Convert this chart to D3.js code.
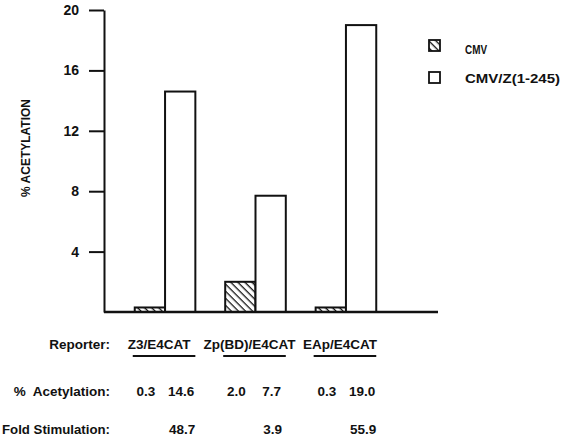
<!DOCTYPE html>
<html>
<head>
<meta charset="utf-8">
<script src="https://cdn.jsdelivr.net/npm/d3@7"></script>
<style>
  body { margin: 0; background: #fff; }
  svg { display: block; font-family: Arial, "Liberation Sans", Helvetica, sans-serif; }
  text { white-space: pre; }
</style>
</head>
<body>
<div id="chart"></div>
<script>
// Data
const reporters = ["Z3/E4CAT", "Zp(BD)/E4CAT", "EAp/E4CAT"];
const series = ["CMV", "CMV/Z(1-245)"];
const cmvValues = [0.3, 2.0, 0.3];
const cmvZValues = [14.6, 7.7, 19.0];
const foldStimulation = ["48.7", "3.9", "55.9"];
const yTicks = [4, 8, 12, 16, 20];

const width = 569, height = 442;

const svg = d3.select("#chart")
  .append("svg")
  .attr("width", width)
  .attr("height", height);

// Hatch pattern for CMV bars (lines running top-left to bottom-right)
const defs = svg.append("defs");
const pattern = defs.append("pattern")
  .attr("id", "hatch")
  .attr("patternUnits", "userSpaceOnUse")
  .attr("width", 5)
  .attr("height", 5)
  .attr("patternTransform", "rotate(45)");
pattern.append("rect").attr("width", 5).attr("height", 5).attr("fill", "#fff");
pattern.append("line")
  .attr("x1", 0).attr("y1", 0).attr("x2", 5).attr("y2", 0)
  .attr("stroke", "#111").attr("stroke-width", 2.6);

// Scales
const y = d3.scaleLinear().domain([0, 20]).range([312, 10]);
const x = d3.scaleBand()
  .domain(reporters)
  .range([104, 407])
  .paddingInner(0.33)
  .paddingOuter(0.34);
const xSub = d3.scaleBand().domain(series).range([0, x.bandwidth()]);

// Y axis
const yAxis = d3.axisLeft(y)
  .tickValues(yTicks)
  .tickSize(15)
  .tickSizeOuter(0)
  .tickPadding(10);
const gy = svg.append("g")
  .attr("transform", "translate(104,0)")
  .call(yAxis);
gy.select(".domain").attr("stroke", "#111").attr("stroke-width", 2);
gy.selectAll(".tick line").attr("stroke", "#111").attr("stroke-width", 2);
gy.selectAll(".tick text")
  .attr("fill", "#111")
  .attr("font-size", 14)
  .attr("font-weight", "bold");

// Y label
svg.append("text")
  .attr("transform", "translate(30,148) rotate(-90)")
  .attr("text-anchor", "middle")
  .attr("font-size", 12)
  .attr("font-weight", "bold")
  .attr("fill", "#111")
  .text("% ACETYLATION");

// Bars
const groups = svg.append("g")
  .selectAll("g")
  .data(reporters)
  .join("g")
  .attr("transform", d => `translate(${x(d)},0)`);

groups.append("rect")
  .attr("x", xSub("CMV"))
  .attr("y", (d, i) => y(cmvValues[i]))
  .attr("width", xSub.bandwidth())
  .attr("height", (d, i) => y(0) - y(cmvValues[i]))
  .attr("fill", "url(#hatch)")
  .attr("stroke", "#111")
  .attr("stroke-width", 2);

groups.append("rect")
  .attr("x", xSub("CMV/Z(1-245)"))
  .attr("y", (d, i) => y(cmvZValues[i]))
  .attr("width", xSub.bandwidth())
  .attr("height", (d, i) => y(0) - y(cmvZValues[i]))
  .attr("fill", "#fff")
  .attr("stroke", "#111")
  .attr("stroke-width", 2);

// X baseline
svg.append("line")
  .attr("x1", 104).attr("x2", 438)
  .attr("y1", y(0)).attr("y2", y(0))
  .attr("stroke", "#111")
  .attr("stroke-width", 2.5);

// Legend
const legend = svg.append("g");
series.forEach((s, i) => {
  const ly = 40 + i * 32;
  legend.append("rect")
    .attr("x", 429).attr("y", ly)
    .attr("width", 11).attr("height", 11)
    .attr("fill", i === 0 ? "url(#hatch)" : "#fff")
    .attr("stroke", "#111")
    .attr("stroke-width", 1.8);
  legend.append("text")
    .attr("x", 465).attr("y", ly + 14 - i * 3)
    .attr("font-size", i === 0 ? 12 : 13)
    .attr("font-weight", "bold")
    .attr("fill", "#111")
    .attr("textLength", i === 0 ? 22 : 95)
    .attr("lengthAdjust", "spacingAndGlyphs")
    .text(s);
});

// Table below chart
const fs = 13.5;
const rowLabel = (txt, yy, len) => {
  const t = svg.append("text")
    .attr("x", 110).attr("y", yy)
    .attr("text-anchor", "end")
    .attr("font-size", fs)
    .attr("font-weight", "bold")
    .attr("fill", "#111")
    .text(txt);
  if (len) t.attr("textLength", len).attr("lengthAdjust", "spacingAndGlyphs");
  return t;
};

rowLabel("Reporter:", 349);
rowLabel("%  Acetylation:", 396);
rowLabel("Fold Stimulation:", 434, 108);

const center = d => x(d) + x.bandwidth() / 2;
const barCenter = (d, s) => x(d) + xSub(s) + xSub.bandwidth() / 2;

svg.append("g").selectAll("text")
  .data(reporters)
  .join("text")
  .attr("x", d => center(d) - 6)
  .attr("y", 349)
  .attr("text-anchor", "middle")
  .attr("font-size", fs)
  .attr("font-weight", "bold")
  .attr("fill", "#111")
  .text(d => d);

svg.append("g").selectAll("line")
  .data(reporters)
  .join("line")
  .attr("x1", d => x(d) - 2)
  .attr("x2", d => x(d) + x.bandwidth())
  .attr("y1", 356).attr("y2", 356)
  .attr("stroke", "#111")
  .attr("stroke-width", 1.8);

// % acetylation values
const acet = svg.append("g");
reporters.forEach((r, i) => {
  acet.append("text")
    .attr("x", barCenter(r, "CMV") - 4)
    .attr("y", 396)
    .attr("text-anchor", "middle")
    .attr("font-size", fs)
    .attr("font-weight", "bold")
    .attr("fill", "#111")
    .text(cmvValues[i].toFixed(1));
  acet.append("text")
    .attr("x", barCenter(r, "CMV/Z(1-245)") + 1)
    .attr("y", 396)
    .attr("text-anchor", "middle")
    .attr("font-size", fs)
    .attr("font-weight", "bold")
    .attr("fill", "#111")
    .text(cmvZValues[i].toFixed(1));
});

// Fold stimulation values
svg.append("g").selectAll("text")
  .data(reporters)
  .join("text")
  .attr("x", d => barCenter(d, "CMV/Z(1-245)") + 2)
  .attr("y", 434)
  .attr("text-anchor", "middle")
  .attr("font-size", fs)
  .attr("font-weight", "bold")
  .attr("fill", "#111")
  .text((d, i) => foldStimulation[i]);
</script>
</body>
</html>
